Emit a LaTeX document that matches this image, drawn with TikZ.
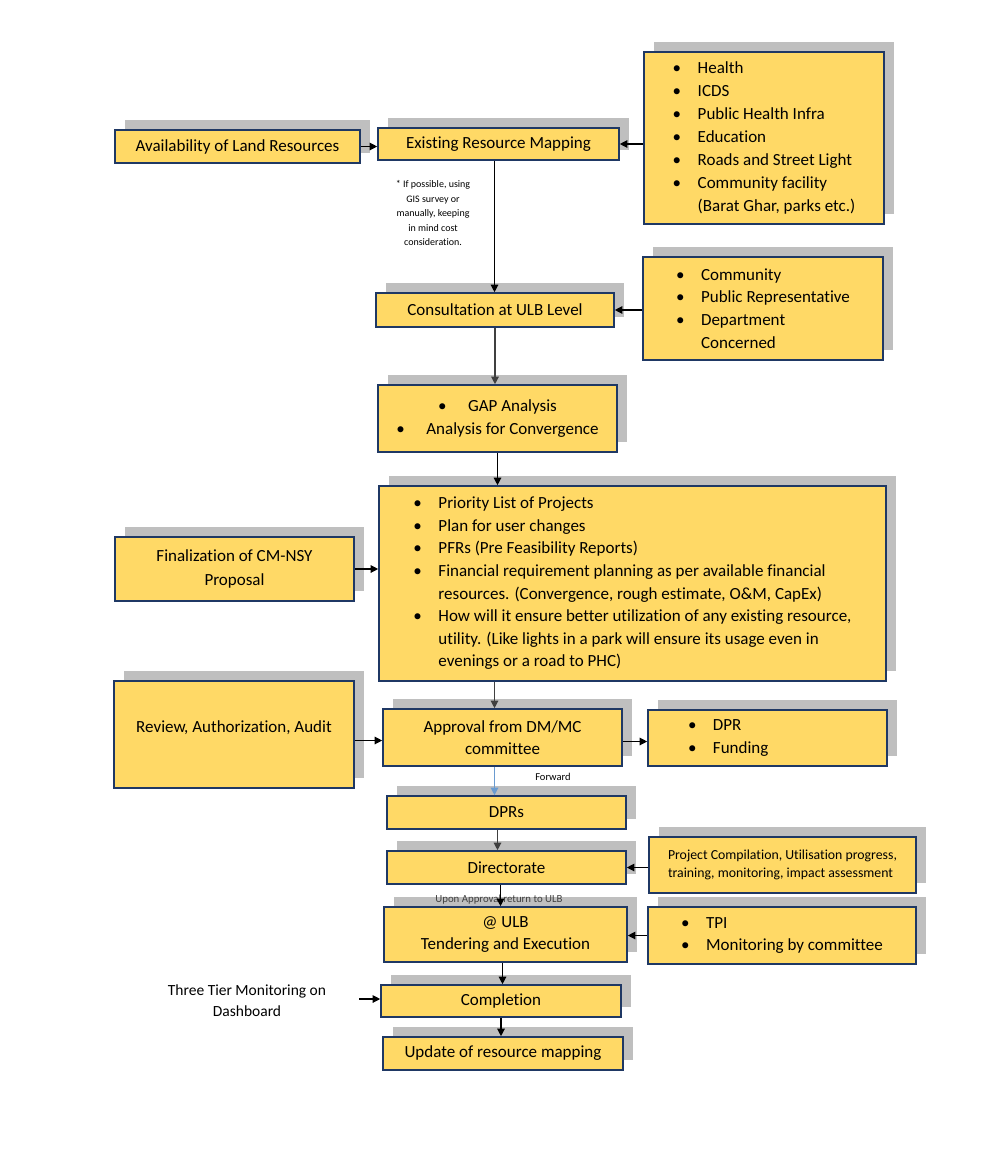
\documentclass[tikz,border=0pt]{standalone}
\usepackage{fontspec}
\setmainfont{Carlito}[Ligatures=NoCommon]
\usetikzlibrary{arrows.meta, shadows}
\definecolor{cmFill}{HTML}{FFD966}
\definecolor{cmEdge}{HTML}{1F3864}
\definecolor{cmShade}{HTML}{BFBFBF}
\definecolor{cmLink}{HTML}{6A9BD0}
\definecolor{cmNote}{HTML}{404040}
\newcommand{\cmbul}{\makebox[25pt][l]{\textbullet}}
\newcommand{\cmpad}{\hspace*{25pt}}
\tikzset{
  cmbox/.style={
    draw=cmEdge, fill=cmFill, line width=1.6pt, rectangle, align=center,
    font=\fontsize{17}{22.6}\selectfont, inner sep=4pt,
    drop shadow={shadow xshift=10pt, shadow yshift=10pt, fill=cmShade, opacity=1}
  },
  listbox/.style={cmbox, align=left},
  notetext/.style={align=center, font=\fontsize{10}{14.5}\selectfont},
  linktext/.style={font=\fontsize{10.5}{12}\selectfont},
  sidetext/.style={align=center, font=\fontsize{15.5}{21}\selectfont},
  flow/.style={-{Triangle[length=7.5pt, width=7.5pt]}, line width=1.2pt, black},
  softflow/.style={flow, cmNote},
  fwdflow/.style={flow, cmLink}
}
\begin{document}
\begin{tikzpicture}[x=1pt, y=-1pt]
  \path[use as bounding box, fill=white] (0,0) rectangle (1000,1151);

  \node[cmbox, minimum width=245pt, minimum height=33pt] (land) at (237.5,146.5) {Availability of Land Resources};
  \node[cmbox, minimum width=241pt, minimum height=32pt] (mapping) at (498.5,144) {Existing Resource Mapping};
  \node[listbox, minimum width=240pt, minimum height=172pt, font=\fontsize{17}{23}\selectfont] (facility) at (764,138)
    {\cmbul Health\\ \cmbul ICDS\\ \cmbul Public Health Infra\\ \cmbul Education\\
     \cmbul Roads and Street Light\\ \cmbul Community facility\\ \cmpad(Barat Ghar, parks etc.)};
  \node[notetext] (gisnote) at (433,213) {* If possible, using\\GIS survey or\\manually, keeping\\in mind cost\\consideration.};

  \node[cmbox, minimum width=238pt, minimum height=34pt] (consult) at (495,310) {Consultation at ULB Level};
  \node[listbox, minimum width=240pt, minimum height=103pt] (stake) at (763,308.5)
    {\cmbul Community\\ \cmbul Public Representative\\ \cmbul Department\\ \cmpad Concerned};

  \node[cmbox, minimum width=239pt, minimum height=67pt] (gap) at (497.5,418.5)
    {\makebox[30pt][l]{\textbullet}GAP Analysis\\ \makebox[30pt][l]{\textbullet}Analysis for Convergence};

  \node[listbox, minimum width=507pt, minimum height=195pt] (priority) at (632.5,583.5)
    {\cmbul Priority List of Projects\\
     \cmbul Plan for user changes\\
     \cmbul PFRs (Pre Feasibility Reports)\\
     \cmbul Financial requirement planning as per available financial\\
     \cmpad resources. (Convergence, rough estimate, O\&M, CapEx)\\
     \cmbul How will it ensure better utilization of any existing resource,\\
     \cmpad utility. (Like lights in a park will ensure its usage even in\\
     \cmpad evenings or a road to PHC)};
  \node[cmbox, minimum width=239pt, minimum height=64pt, font=\fontsize{17}{24}\selectfont] (final) at (234.5,569) {Finalization of CM-NSY\\Proposal};

  \node[cmbox, minimum width=240pt, minimum height=107pt] (review) at (234,734.5) {\raisebox{16pt}{Review, Authorization, Audit}};
  \node[cmbox, minimum width=239pt, minimum height=57pt] (approval) at (502.5,737.5) {Approval from DM/MC\\committee};
  \node[listbox, minimum width=239pt, minimum height=56pt, text width=159pt, inner xsep=40pt] (fund) at (767.5,738)
    {\cmbul DPR\\ \cmbul Funding};

  \node[linktext] (fwdlabel) at (553,777) {Forward};
  \node[cmbox, minimum width=239pt, minimum height=33pt] (dprs) at (506.5,812.5) {DPRs};
  \node[cmbox, minimum width=239pt, minimum height=33pt] (direct) at (506.5,867.5) {Directorate};
  \node[listbox, minimum width=267pt, minimum height=56pt, font=\fontsize{13.8}{18}\selectfont] (compile) at (782.5,865)
    {Project Compilation, Utilisation progress,\\training, monitoring, impact assessment};

  \node[cmbox, minimum width=243pt, minimum height=55pt] (ulb) at (505.5,934.5) {@ ULB\\Tendering and Execution};
  \node[notetext, font=\fontsize{10.8}{13}\selectfont, text=cmNote] (retlabel) at (499,900) {Upon Approval return to ULB};
  \node[listbox, minimum width=268pt, minimum height=57pt] (tpi) at (782,935.5)
    {\cmbul TPI\\ \cmbul Monitoring by committee};

  \node[cmbox, minimum width=240pt, minimum height=32pt] (complete) at (501,1001) {Completion};
  \node[sidetext] (tier) at (247,1000.5) {Three Tier Monitoring on\\Dashboard};
  \coordinate (tierin) at (359,999);
  \node[cmbox, minimum width=240pt, minimum height=33pt] (update) at (503,1053.5) {Update of resource mapping};

  \draw[flow] (land.east) -- (land.east -| mapping.west);
  \draw[flow] (facility.west |- mapping.east) -- (mapping.east);
  \draw[flow] ([xshift=-4pt]mapping.south) -- ([xshift=-4pt]mapping.south |- consult.north);
  \draw[flow] (stake.west |- consult.east) -- (consult.east);
  \draw[softflow] (consult.south) -- (consult.south |- gap.north);
  \draw[flow] (gap.south) -- (gap.south |- priority.north);
  \draw[flow] (final.east) -- (final.east -| priority.west);
  \draw[softflow] ([xshift=-8pt]approval.north |- priority.south) -- ([xshift=-8pt]approval.north);
  \draw[flow] ([yshift=-6pt]review.east) -- ([yshift=-6pt]review.east -| approval.west);
  \draw[flow] ([yshift=-4pt]approval.east) -- ([yshift=-4pt]approval.east -| fund.west);
  \draw[fwdflow] ([xshift=-8pt]approval.south) -- ([xshift=-8pt]approval.south |- dprs.north);
  \draw[softflow] ([xshift=-9pt]dprs.south) -- ([xshift=-9pt]dprs.south |- direct.north);
  \draw[flow] (compile.west |- direct.east) -- (direct.east);
  \draw[flow] ([xshift=-6pt]direct.south) -- ([xshift=-6pt]direct.south |- ulb.north);
  \draw[flow] (tpi.west) -- (tpi.west -| ulb.east);
  \draw[flow] ([xshift=-3pt]ulb.south) -- ([xshift=-3pt]ulb.south |- complete.north);
  \draw[flow] (tierin) -- (tierin -| complete.west);
  \draw[flow] (complete.south) -- (complete.south |- update.north);
\end{tikzpicture}
\end{document}
